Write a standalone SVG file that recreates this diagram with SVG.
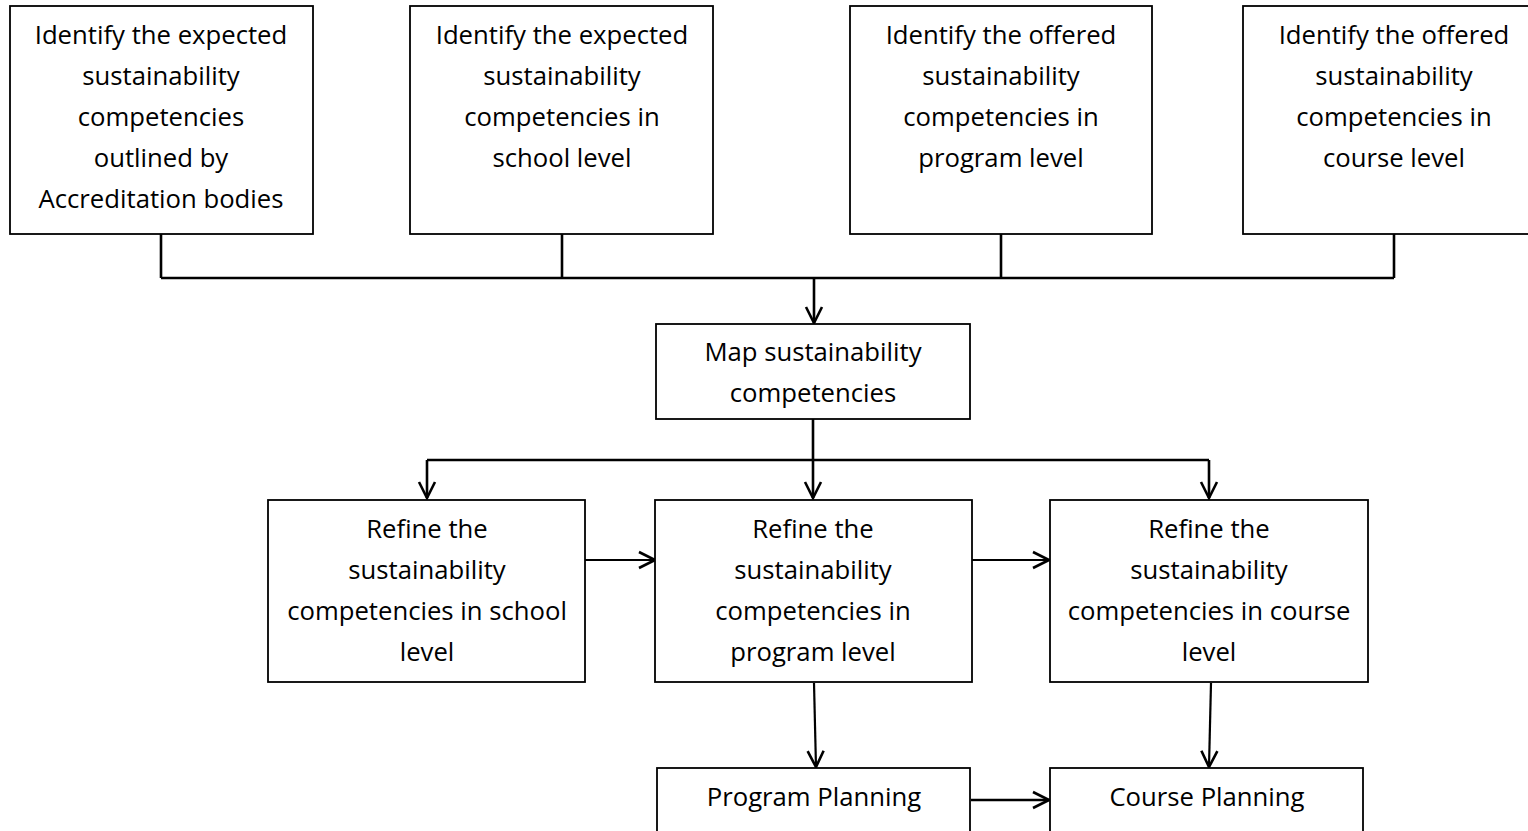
<svg xmlns="http://www.w3.org/2000/svg" width="1528" height="831" viewBox="0 0 1528 831">
<defs>
<marker id="ah" viewBox="0 0 20 20" refX="18" refY="10" markerWidth="20" markerHeight="20" markerUnits="userSpaceOnUse" orient="auto">
<path d="M2,2 L18,10 L2,18" fill="none" stroke="#000" stroke-width="2.6"/>
</marker>
</defs>
<style>
rect{fill:#fff;stroke:#000;stroke-width:1.8}
text{font-family:"Open Sans","Liberation Sans",sans-serif;font-size:25.7px;fill:#000;text-anchor:middle;dominant-baseline:central}
.c{fill:none;stroke:#000;stroke-width:2.6}
.a{fill:none;stroke:#000;stroke-width:2.2;marker-end:url(#ah)}
</style>
<rect x="0" y="0" width="1528" height="831" style="fill:#fff;stroke:none"/>
<g id="connectors">
<path class="c" d="M161,234 V278 M562,234 V278 M1001,234 V278 M1394,234 V278 M161,278 H1394"/>
<path class="c" d="M814,278 V323" marker-end="url(#ah)"/>
<path class="c" d="M813,419 V460 M427,460 H1209"/>
<path class="c" d="M427,460 V498" marker-end="url(#ah)"/>
<path class="c" d="M813,460 V498" marker-end="url(#ah)"/>
<path class="c" d="M1209,460 V498" marker-end="url(#ah)"/>
<path class="a" d="M583,560 H655"/>
<path class="a" d="M971,560 H1049"/>
<path class="a" d="M814,683 L816,767"/>
<path class="a" d="M1211,683 L1209,767"/>
<path class="c" d="M971,800 H1049" marker-end="url(#ah)"/>
</g>
<g id="n1"><rect x="10" y="6" width="303" height="228"/>
<text x="161" y="34">Identify the expected</text><text x="161" y="75">sustainability</text><text x="161" y="116">competencies</text><text x="161" y="157">outlined by</text><text x="161" y="198">Accreditation bodies</text></g>
<g id="n2"><rect x="410" y="6" width="303" height="228"/>
<text x="562" y="34">Identify the expected</text><text x="562" y="75">sustainability</text><text x="562" y="116">competencies in</text><text x="562" y="157">school level</text></g>
<g id="n3"><rect x="850" y="6" width="302" height="228"/>
<text x="1001" y="34">Identify the offered</text><text x="1001" y="75">sustainability</text><text x="1001" y="116">competencies in</text><text x="1001" y="157">program level</text></g>
<g id="n4"><rect x="1243" y="6" width="300" height="228"/>
<text x="1394" y="34">Identify the offered</text><text x="1394" y="75">sustainability</text><text x="1394" y="116">competencies in</text><text x="1394" y="157">course level</text></g>
<g id="n5"><rect x="656" y="324" width="314" height="95"/>
<text x="813" y="351">Map sustainability</text><text x="813" y="392">competencies</text></g>
<g id="n6"><rect x="268" y="500" width="317" height="182"/>
<text x="427" y="528">Refine the</text><text x="427" y="569">sustainability</text><text x="427" y="610">competencies in school</text><text x="427" y="651">level</text></g>
<g id="n7"><rect x="655" y="500" width="317" height="182"/>
<text x="813" y="528">Refine the</text><text x="813" y="569">sustainability</text><text x="813" y="610">competencies in</text><text x="813" y="651">program level</text></g>
<g id="n8"><rect x="1050" y="500" width="318" height="182"/>
<text x="1209" y="528">Refine the</text><text x="1209" y="569">sustainability</text><text x="1209" y="610">competencies in course</text><text x="1209" y="651">level</text></g>
<g id="n9"><rect x="657" y="768" width="313" height="80"/>
<text x="814" y="796">Program Planning</text></g>
<g id="n10"><rect x="1050" y="768" width="313" height="80"/>
<text x="1207" y="796">Course Planning</text></g>
</svg>
